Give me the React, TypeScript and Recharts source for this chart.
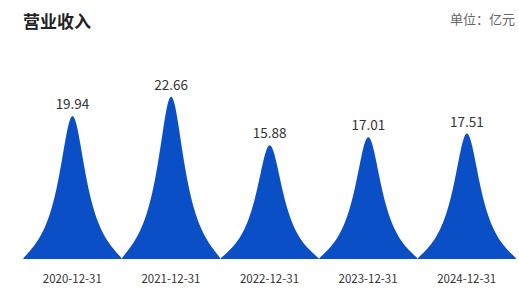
import React from "react";
import { BarChart, Bar, XAxis, YAxis, LabelList } from "recharts";

const categories = ["2020-12-31", "2021-12-31", "2022-12-31", "2023-12-31", "2024-12-31"];
const revenue = [19.94, 22.66, 15.88, 17.01, 17.51];
const title = "营业收入";
const unitText = "单位：亿元";

const data = categories.map((c, i) => ({ date: c, value: revenue[i] }));

const PeakShape = (props: any) => {
  const { x, y, width, height, fill } = props;
  if (!height || height <= 0) return null;
  const a = 0.15;
  const p = 0.8;
  const L = (d: number) => 1 / (1 + (d / a) * (d / a));
  const L5 = L(0.5);
  const pts: string[] = [];
  const n = 140;
  for (let i = 0; i <= n; i++) {
    const t = -1 + (2 * i) / n;
    const d = 0.5 * Math.sign(t) * t * t;
    const f0 = Math.max(0, (L(Math.abs(d)) - L5) / (1 - L5));
    const f = Math.pow(f0, p);
    const px = x + (0.5 + d) * width;
    const py = y + height * (1 - f);
    pts.push(`${px.toFixed(2)},${py.toFixed(2)}`);
  }
  const path = `M${pts.join(" L")} Z`;
  return <path d={path} fill={fill} stroke="none" />;
};

export default function App() {
  return (
    <div
      style={{
        position: "absolute",
        left: 0,
        top: 0,
        width: 519,
        height: 291,
        background: "#fff",
        fontFamily: "'Noto Sans CJK SC', 'Noto Sans', sans-serif",
      }}
    >
      <div
        style={{
          position: "absolute",
          left: 23,
          top: 9,
          fontSize: 17,
          fontWeight: 700,
          color: "#222",
          lineHeight: "24px",
        }}
      >
        {title}
      </div>
      <div
        style={{
          position: "absolute",
          right: 4,
          top: 9,
          fontSize: 13,
          color: "#666",
          lineHeight: "20px",
        }}
      >
        {unitText}
      </div>
      <div style={{ position: "absolute", left: 0, top: 0 }}>
        <BarChart
          width={519}
          height={291}
          data={data}
          margin={{ top: 80, right: 3, bottom: 0, left: 23 }}
          barCategoryGap={0}
          barGap={0}
        >
          <XAxis
            dataKey="date"
            axisLine={false}
            tickLine={false}
            tickSize={6}
            tickMargin={10}
            height={32}
            interval={0}
            tick={{ fontSize: 11.5, fill: "#333", fontFamily: "'Noto Sans CJK SC', 'Noto Sans', sans-serif" }}
          />
          <YAxis hide domain={[0, 25]} />
          <Bar dataKey="value" fill="#0b4fc7" shape={<PeakShape />} isAnimationActive={false}>
            <LabelList
              dataKey="value"
              position="top"
              offset={7}
              style={{ fontSize: 13.5, fill: "#333", fontFamily: "'Noto Sans CJK SC', 'Noto Sans', sans-serif" }}
            />
          </Bar>
        </BarChart>
      </div>
    </div>
  );
}
